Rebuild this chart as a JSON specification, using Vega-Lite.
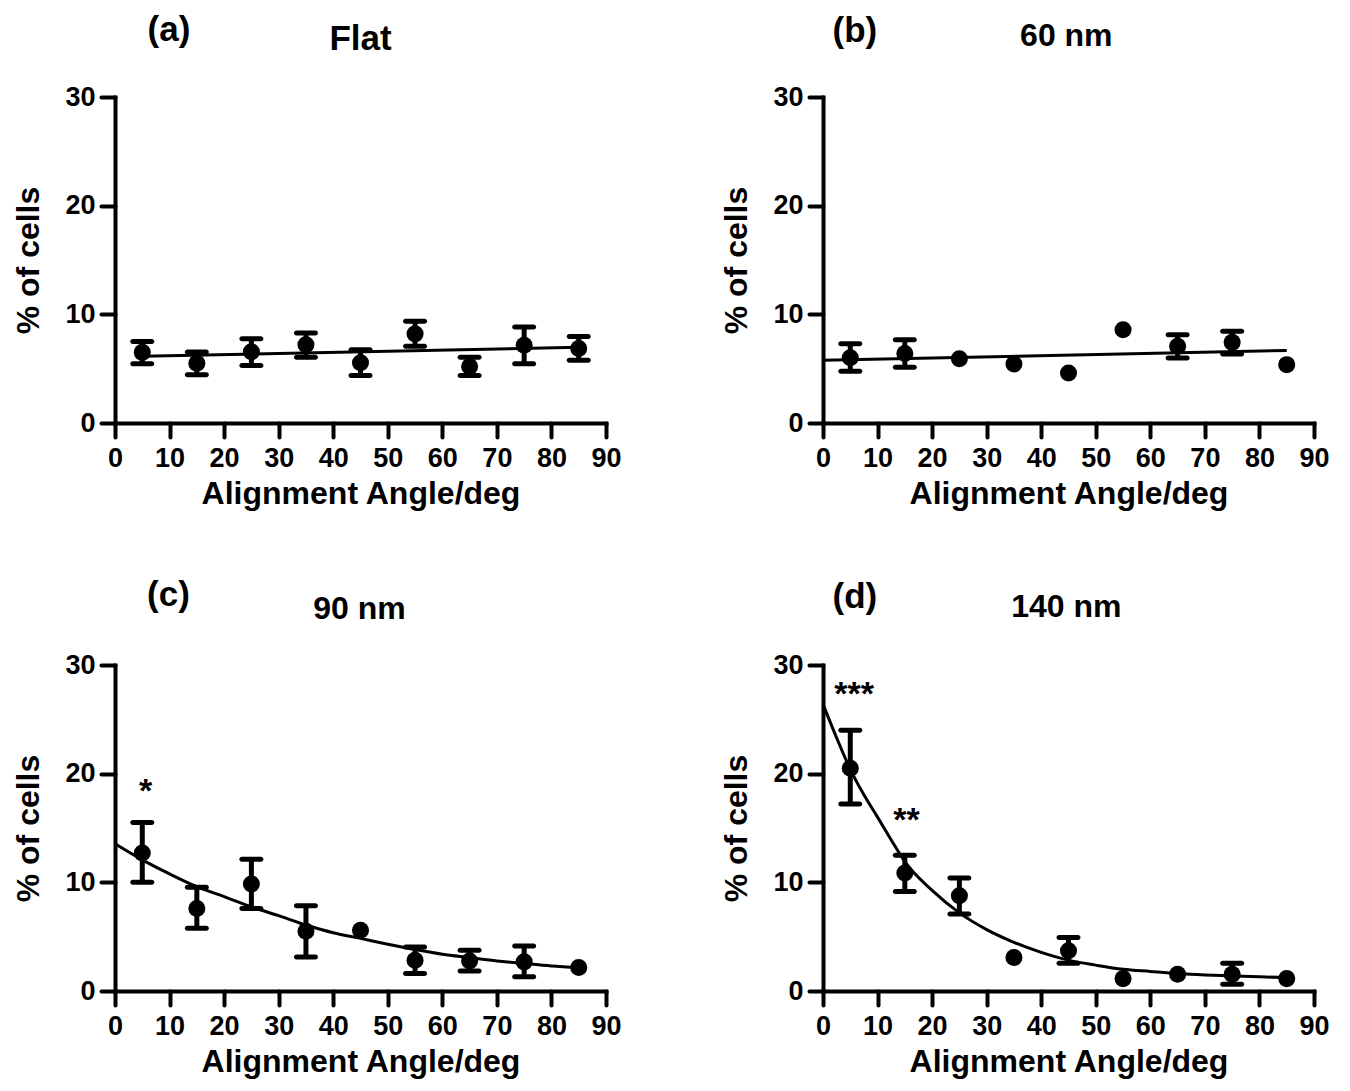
{
  "$schema": "https://vega.github.io/schema/vega-lite/v6.json",
  "padding": {"left": 12, "top": 12, "right": 5, "bottom": 5},
  "background": "white",
  "data": {"values": [
    {"p": "a", "kind": "pt", "x": 5, "y": 6.5, "lo": 5.46, "hi": 7.5},
    {"p": "a", "kind": "pt", "x": 15, "y": 5.5, "lo": 4.45, "hi": 6.53},
    {"p": "a", "kind": "pt", "x": 25, "y": 6.55, "lo": 5.3, "hi": 7.76},
    {"p": "a", "kind": "pt", "x": 35, "y": 7.2, "lo": 6.04, "hi": 8.28},
    {"p": "a", "kind": "pt", "x": 45, "y": 5.55, "lo": 4.36, "hi": 6.75},
    {"p": "a", "kind": "pt", "x": 55, "y": 8.2, "lo": 7.06, "hi": 9.36},
    {"p": "a", "kind": "pt", "x": 65, "y": 5.2, "lo": 4.36, "hi": 6.04},
    {"p": "a", "kind": "pt", "x": 75, "y": 7.15, "lo": 5.46, "hi": 8.83},
    {"p": "a", "kind": "pt", "x": 85, "y": 6.85, "lo": 5.77, "hi": 7.97},
    {"p": "b", "kind": "pt", "x": 5, "y": 6.0, "lo": 4.76, "hi": 7.3},
    {"p": "b", "kind": "pt", "x": 15, "y": 6.4, "lo": 5.12, "hi": 7.67},
    {"p": "b", "kind": "pt", "x": 25, "y": 5.92},
    {"p": "b", "kind": "pt", "x": 35, "y": 5.43},
    {"p": "b", "kind": "pt", "x": 45, "y": 4.6},
    {"p": "b", "kind": "pt", "x": 55, "y": 8.59},
    {"p": "b", "kind": "pt", "x": 65, "y": 7.06, "lo": 5.98, "hi": 8.13},
    {"p": "b", "kind": "pt", "x": 75, "y": 7.42, "lo": 6.35, "hi": 8.44},
    {"p": "b", "kind": "pt", "x": 85, "y": 5.37},
    {"p": "c", "kind": "pt", "x": 5, "y": 12.7, "lo": 10.0, "hi": 15.5},
    {"p": "c", "kind": "pt", "x": 15, "y": 7.6, "lo": 5.77, "hi": 9.55},
    {"p": "c", "kind": "pt", "x": 25, "y": 9.85, "lo": 7.6, "hi": 12.13},
    {"p": "c", "kind": "pt", "x": 35, "y": 5.5, "lo": 3.14, "hi": 7.85},
    {"p": "c", "kind": "pt", "x": 45, "y": 5.6},
    {"p": "c", "kind": "pt", "x": 55, "y": 2.83, "lo": 1.6, "hi": 4.06},
    {"p": "c", "kind": "pt", "x": 65, "y": 2.77, "lo": 1.85, "hi": 3.76},
    {"p": "c", "kind": "pt", "x": 75, "y": 2.68, "lo": 1.3, "hi": 4.13},
    {"p": "c", "kind": "pt", "x": 85, "y": 2.16},
    {"p": "d", "kind": "pt", "x": 5, "y": 20.5, "lo": 17.2, "hi": 24.0},
    {"p": "d", "kind": "pt", "x": 15, "y": 10.85, "lo": 9.15, "hi": 12.5},
    {"p": "d", "kind": "pt", "x": 25, "y": 8.77, "lo": 7.08, "hi": 10.4},
    {"p": "d", "kind": "pt", "x": 35, "y": 3.08},
    {"p": "d", "kind": "pt", "x": 45, "y": 3.7, "lo": 2.56, "hi": 4.93},
    {"p": "d", "kind": "pt", "x": 55, "y": 1.14},
    {"p": "d", "kind": "pt", "x": 65, "y": 1.54},
    {"p": "d", "kind": "pt", "x": 75, "y": 1.54, "lo": 0.62, "hi": 2.56},
    {"p": "d", "kind": "pt", "x": 85, "y": 1.14},
    {"p": "a", "kind": "fit", "x": 5, "y": 6.14},
    {"p": "a", "kind": "fit", "x": 85, "y": 6.96},
    {"p": "b", "kind": "fit", "x": 0, "y": 5.77},
    {"p": "b", "kind": "fit", "x": 85, "y": 6.67},
    {"p": "c", "kind": "fit", "x": 0, "y": 13.55},
    {"p": "c", "kind": "fit", "x": 5, "y": 12.07},
    {"p": "c", "kind": "fit", "x": 10, "y": 10.78},
    {"p": "c", "kind": "fit", "x": 15, "y": 9.6},
    {"p": "c", "kind": "fit", "x": 20, "y": 8.68},
    {"p": "c", "kind": "fit", "x": 25, "y": 7.76},
    {"p": "c", "kind": "fit", "x": 30, "y": 6.93},
    {"p": "c", "kind": "fit", "x": 35, "y": 6.07},
    {"p": "c", "kind": "fit", "x": 40, "y": 5.36},
    {"p": "c", "kind": "fit", "x": 45, "y": 4.84},
    {"p": "c", "kind": "fit", "x": 50, "y": 4.31},
    {"p": "c", "kind": "fit", "x": 55, "y": 3.82},
    {"p": "c", "kind": "fit", "x": 60, "y": 3.39},
    {"p": "c", "kind": "fit", "x": 65, "y": 3.08},
    {"p": "c", "kind": "fit", "x": 70, "y": 2.77},
    {"p": "c", "kind": "fit", "x": 75, "y": 2.53},
    {"p": "c", "kind": "fit", "x": 80, "y": 2.31},
    {"p": "c", "kind": "fit", "x": 85, "y": 2.16},
    {"p": "d", "kind": "fit", "x": 0, "y": 26.4},
    {"p": "d", "kind": "fit", "x": 2.5, "y": 23.3},
    {"p": "d", "kind": "fit", "x": 5, "y": 20.4},
    {"p": "d", "kind": "fit", "x": 7.5, "y": 18.05},
    {"p": "d", "kind": "fit", "x": 10, "y": 16.0},
    {"p": "d", "kind": "fit", "x": 12.5, "y": 13.9},
    {"p": "d", "kind": "fit", "x": 15, "y": 11.9},
    {"p": "d", "kind": "fit", "x": 20, "y": 9.26},
    {"p": "d", "kind": "fit", "x": 25, "y": 7.19},
    {"p": "d", "kind": "fit", "x": 30, "y": 5.65},
    {"p": "d", "kind": "fit", "x": 35, "y": 4.48},
    {"p": "d", "kind": "fit", "x": 40, "y": 3.56},
    {"p": "d", "kind": "fit", "x": 45, "y": 2.84},
    {"p": "d", "kind": "fit", "x": 50, "y": 2.38},
    {"p": "d", "kind": "fit", "x": 55, "y": 2.0},
    {"p": "d", "kind": "fit", "x": 60, "y": 1.8},
    {"p": "d", "kind": "fit", "x": 65, "y": 1.61},
    {"p": "d", "kind": "fit", "x": 70, "y": 1.48},
    {"p": "d", "kind": "fit", "x": 75, "y": 1.39},
    {"p": "d", "kind": "fit", "x": 80, "y": 1.3},
    {"p": "d", "kind": "fit", "x": 85, "y": 1.24},
    {"p": "a", "kind": "letter", "x": 9.9, "y": 35.18, "t": "(a)"},
    {"p": "b", "kind": "letter", "x": 5.85, "y": 35.1, "t": "(b)"},
    {"p": "c", "kind": "letter", "x": 9.8, "y": 35.4, "t": "(c)"},
    {"p": "d", "kind": "letter", "x": 5.85, "y": 35.2, "t": "(d)"},
    {"p": "a", "kind": "title", "x": 45, "y": 34.3, "t": "Flat"},
    {"p": "b", "kind": "title", "x": 44.6, "y": 34.65, "t": "60 nm"},
    {"p": "c", "kind": "title", "x": 44.8, "y": 34.2, "t": "90 nm"},
    {"p": "d", "kind": "title", "x": 44.6, "y": 34.4, "t": "140 nm"},
    {"p": "c", "kind": "star", "x": 5.6, "y": 17.4, "t": "*"},
    {"p": "d", "kind": "star", "x": 5.7, "y": 26.3, "t": "***"},
    {"p": "d", "kind": "star", "x": 15.3, "y": 14.7, "t": "**"}
  ]},
  "columns": 2,
  "spacing": {"row": 69, "column": 98},
  "concat": [
    {
      "transform": [{"filter": "datum.p == 'a'"}],
      "width": 491, "height": 326,
      "encoding": {"x": {"field": "x", "type": "quantitative", "title": "Alignment Angle/deg", "scale": {"domain": [0, 90], "nice": false}, "axis": {"values": [0, 10, 20, 30, 40, 50, 60, 70, 80, 90], "labelFlush": false, "labelOverlap": false, "labelPadding": 8, "titlePadding": 7}}},
      "layer": [
        {"transform": [{"filter": "datum.kind == 'fit'"}], "mark": {"type": "line", "color": "black", "strokeWidth": 3, "interpolate": "monotone"}, "encoding": {"y": {"field": "y", "type": "quantitative", "title": "% of cells", "scale": {"domain": [0, 30], "nice": false}, "axis": {"values": [0, 10, 20, 30], "labelPadding": 6, "titlePadding": 19}}}},
        {"transform": [{"filter": "datum.kind == 'pt' && isValid(datum.lo)"}], "mark": {"type": "rule", "color": "black", "strokeWidth": 5}, "encoding": {"y": {"field": "lo", "type": "quantitative", "title": "% of cells"}, "y2": {"field": "hi"}}},
        {"transform": [{"filter": "datum.kind == 'pt' && isValid(datum.lo)"}], "mark": {"type": "tick", "orient": "horizontal", "size": 24, "thickness": 5, "color": "black", "opacity": 1, "cornerRadius": 2.5}, "encoding": {"y": {"field": "lo", "type": "quantitative", "title": "% of cells"}}},
        {"transform": [{"filter": "datum.kind == 'pt' && isValid(datum.hi)"}], "mark": {"type": "tick", "orient": "horizontal", "size": 24, "thickness": 5, "color": "black", "opacity": 1, "cornerRadius": 2.5}, "encoding": {"y": {"field": "hi", "type": "quantitative", "title": "% of cells"}}},
        {"transform": [{"filter": "datum.kind == 'pt'"}], "mark": {"type": "circle", "size": 290, "color": "black", "opacity": 1}, "encoding": {"y": {"field": "y", "type": "quantitative", "title": "% of cells"}}},
        {"transform": [{"filter": "datum.kind == 'letter'"}], "mark": {"type": "text", "font": "Liberation Sans", "fontWeight": "bold", "fontSize": 35, "align": "center", "baseline": "alphabetic", "color": "black"}, "encoding": {"y": {"field": "y", "type": "quantitative", "title": "% of cells"}, "text": {"field": "t"}}},
        {"transform": [{"filter": "datum.kind == 'title'"}], "mark": {"type": "text", "font": "Liberation Sans", "fontWeight": "bold", "fontSize": 35, "align": "center", "baseline": "alphabetic", "color": "black"}, "encoding": {"y": {"field": "y", "type": "quantitative", "title": "% of cells"}, "text": {"field": "t"}}}
      ]
    },
    {
      "transform": [{"filter": "datum.p == 'b'"}],
      "width": 491, "height": 326,
      "encoding": {"x": {"field": "x", "type": "quantitative", "title": "Alignment Angle/deg", "scale": {"domain": [0, 90], "nice": false}, "axis": {"values": [0, 10, 20, 30, 40, 50, 60, 70, 80, 90], "labelFlush": false, "labelOverlap": false, "labelPadding": 8, "titlePadding": 7}}},
      "layer": [
        {"transform": [{"filter": "datum.kind == 'fit'"}], "mark": {"type": "line", "color": "black", "strokeWidth": 3, "interpolate": "monotone"}, "encoding": {"y": {"field": "y", "type": "quantitative", "title": "% of cells", "scale": {"domain": [0, 30], "nice": false}, "axis": {"values": [0, 10, 20, 30], "labelPadding": 6, "titlePadding": 19}}}},
        {"transform": [{"filter": "datum.kind == 'pt' && isValid(datum.lo)"}], "mark": {"type": "rule", "color": "black", "strokeWidth": 5}, "encoding": {"y": {"field": "lo", "type": "quantitative", "title": "% of cells"}, "y2": {"field": "hi"}}},
        {"transform": [{"filter": "datum.kind == 'pt' && isValid(datum.lo)"}], "mark": {"type": "tick", "orient": "horizontal", "size": 24, "thickness": 5, "color": "black", "opacity": 1, "cornerRadius": 2.5}, "encoding": {"y": {"field": "lo", "type": "quantitative", "title": "% of cells"}}},
        {"transform": [{"filter": "datum.kind == 'pt' && isValid(datum.hi)"}], "mark": {"type": "tick", "orient": "horizontal", "size": 24, "thickness": 5, "color": "black", "opacity": 1, "cornerRadius": 2.5}, "encoding": {"y": {"field": "hi", "type": "quantitative", "title": "% of cells"}}},
        {"transform": [{"filter": "datum.kind == 'pt'"}], "mark": {"type": "circle", "size": 290, "color": "black", "opacity": 1}, "encoding": {"y": {"field": "y", "type": "quantitative", "title": "% of cells"}}},
        {"transform": [{"filter": "datum.kind == 'letter'"}], "mark": {"type": "text", "font": "Liberation Sans", "fontWeight": "bold", "fontSize": 35, "align": "center", "baseline": "alphabetic", "color": "black"}, "encoding": {"y": {"field": "y", "type": "quantitative", "title": "% of cells"}, "text": {"field": "t"}}},
        {"transform": [{"filter": "datum.kind == 'title'"}], "mark": {"type": "text", "font": "Liberation Sans", "fontWeight": "bold", "fontSize": 32, "align": "center", "baseline": "alphabetic", "color": "black"}, "encoding": {"y": {"field": "y", "type": "quantitative", "title": "% of cells"}, "text": {"field": "t"}}}
      ]
    },
    {
      "transform": [{"filter": "datum.p == 'c'"}],
      "width": 491, "height": 326,
      "encoding": {"x": {"field": "x", "type": "quantitative", "title": "Alignment Angle/deg", "scale": {"domain": [0, 90], "nice": false}, "axis": {"values": [0, 10, 20, 30, 40, 50, 60, 70, 80, 90], "labelFlush": false, "labelOverlap": false, "labelPadding": 8, "titlePadding": 7}}},
      "layer": [
        {"transform": [{"filter": "datum.kind == 'fit'"}], "mark": {"type": "line", "color": "black", "strokeWidth": 3, "interpolate": "monotone"}, "encoding": {"y": {"field": "y", "type": "quantitative", "title": "% of cells", "scale": {"domain": [0, 30], "nice": false}, "axis": {"values": [0, 10, 20, 30], "labelPadding": 6, "titlePadding": 19}}}},
        {"transform": [{"filter": "datum.kind == 'pt' && isValid(datum.lo)"}], "mark": {"type": "rule", "color": "black", "strokeWidth": 5}, "encoding": {"y": {"field": "lo", "type": "quantitative", "title": "% of cells"}, "y2": {"field": "hi"}}},
        {"transform": [{"filter": "datum.kind == 'pt' && isValid(datum.lo)"}], "mark": {"type": "tick", "orient": "horizontal", "size": 24, "thickness": 5, "color": "black", "opacity": 1, "cornerRadius": 2.5}, "encoding": {"y": {"field": "lo", "type": "quantitative", "title": "% of cells"}}},
        {"transform": [{"filter": "datum.kind == 'pt' && isValid(datum.hi)"}], "mark": {"type": "tick", "orient": "horizontal", "size": 24, "thickness": 5, "color": "black", "opacity": 1, "cornerRadius": 2.5}, "encoding": {"y": {"field": "hi", "type": "quantitative", "title": "% of cells"}}},
        {"transform": [{"filter": "datum.kind == 'pt'"}], "mark": {"type": "circle", "size": 290, "color": "black", "opacity": 1}, "encoding": {"y": {"field": "y", "type": "quantitative", "title": "% of cells"}}},
        {"transform": [{"filter": "datum.kind == 'letter'"}], "mark": {"type": "text", "font": "Liberation Sans", "fontWeight": "bold", "fontSize": 35, "align": "center", "baseline": "alphabetic", "color": "black"}, "encoding": {"y": {"field": "y", "type": "quantitative", "title": "% of cells"}, "text": {"field": "t"}}},
        {"transform": [{"filter": "datum.kind == 'title'"}], "mark": {"type": "text", "font": "Liberation Sans", "fontWeight": "bold", "fontSize": 32, "align": "center", "baseline": "alphabetic", "color": "black"}, "encoding": {"y": {"field": "y", "type": "quantitative", "title": "% of cells"}, "text": {"field": "t"}}},
        {"transform": [{"filter": "datum.kind == 'star'"}], "mark": {"type": "text", "font": "Liberation Sans", "fontWeight": "bold", "fontSize": 34, "align": "center", "baseline": "alphabetic", "color": "black"}, "encoding": {"y": {"field": "y", "type": "quantitative", "title": "% of cells"}, "text": {"field": "t"}}}
      ]
    },
    {
      "transform": [{"filter": "datum.p == 'd'"}],
      "width": 491, "height": 326,
      "encoding": {"x": {"field": "x", "type": "quantitative", "title": "Alignment Angle/deg", "scale": {"domain": [0, 90], "nice": false}, "axis": {"values": [0, 10, 20, 30, 40, 50, 60, 70, 80, 90], "labelFlush": false, "labelOverlap": false, "labelPadding": 8, "titlePadding": 7}}},
      "layer": [
        {"transform": [{"filter": "datum.kind == 'fit'"}], "mark": {"type": "line", "color": "black", "strokeWidth": 3, "interpolate": "monotone"}, "encoding": {"y": {"field": "y", "type": "quantitative", "title": "% of cells", "scale": {"domain": [0, 30], "nice": false}, "axis": {"values": [0, 10, 20, 30], "labelPadding": 6, "titlePadding": 19}}}},
        {"transform": [{"filter": "datum.kind == 'pt' && isValid(datum.lo)"}], "mark": {"type": "rule", "color": "black", "strokeWidth": 5}, "encoding": {"y": {"field": "lo", "type": "quantitative", "title": "% of cells"}, "y2": {"field": "hi"}}},
        {"transform": [{"filter": "datum.kind == 'pt' && isValid(datum.lo)"}], "mark": {"type": "tick", "orient": "horizontal", "size": 24, "thickness": 5, "color": "black", "opacity": 1, "cornerRadius": 2.5}, "encoding": {"y": {"field": "lo", "type": "quantitative", "title": "% of cells"}}},
        {"transform": [{"filter": "datum.kind == 'pt' && isValid(datum.hi)"}], "mark": {"type": "tick", "orient": "horizontal", "size": 24, "thickness": 5, "color": "black", "opacity": 1, "cornerRadius": 2.5}, "encoding": {"y": {"field": "hi", "type": "quantitative", "title": "% of cells"}}},
        {"transform": [{"filter": "datum.kind == 'pt'"}], "mark": {"type": "circle", "size": 290, "color": "black", "opacity": 1}, "encoding": {"y": {"field": "y", "type": "quantitative", "title": "% of cells"}}},
        {"transform": [{"filter": "datum.kind == 'letter'"}], "mark": {"type": "text", "font": "Liberation Sans", "fontWeight": "bold", "fontSize": 35, "align": "center", "baseline": "alphabetic", "color": "black"}, "encoding": {"y": {"field": "y", "type": "quantitative", "title": "% of cells"}, "text": {"field": "t"}}},
        {"transform": [{"filter": "datum.kind == 'title'"}], "mark": {"type": "text", "font": "Liberation Sans", "fontWeight": "bold", "fontSize": 32, "align": "center", "baseline": "alphabetic", "color": "black"}, "encoding": {"y": {"field": "y", "type": "quantitative", "title": "% of cells"}, "text": {"field": "t"}}},
        {"transform": [{"filter": "datum.kind == 'star'"}], "mark": {"type": "text", "font": "Liberation Sans", "fontWeight": "bold", "fontSize": 34, "align": "center", "baseline": "alphabetic", "color": "black"}, "encoding": {"y": {"field": "y", "type": "quantitative", "title": "% of cells"}, "text": {"field": "t"}}}
      ]
    }
  ],
  "config": {
    "view": {"stroke": null},
    "axis": {
      "grid": false,
      "domainColor": "black", "domainWidth": 4, "domainCap": "square",
      "tickColor": "black", "tickWidth": 4, "tickSize": 14, "tickCap": "round",
      "labelFont": "Liberation Sans", "labelFontWeight": "bold", "labelFontSize": 27, "labelColor": "black",
      "titleFont": "Liberation Sans", "titleFontWeight": "bold", "titleFontSize": 32, "titleColor": "black"
    }
  }
}
